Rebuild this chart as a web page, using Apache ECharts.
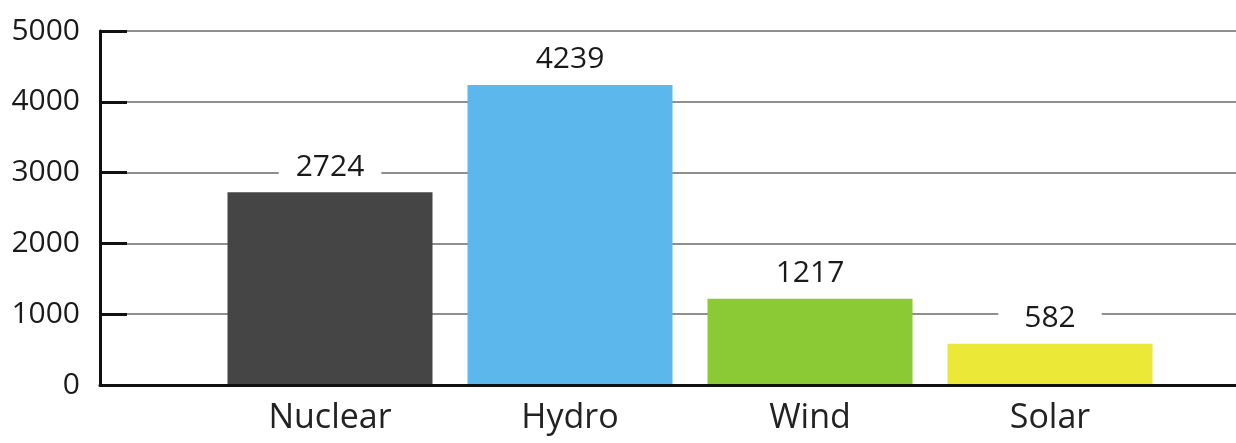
<!DOCTYPE html>
<html>
<head>
<meta charset="utf-8">
<script src="https://cdn.jsdelivr.net/npm/echarts@6/dist/echarts.min.js"></script>
<style>
html,body{margin:0;padding:0;background:#fff;}
#chart{width:1236px;height:443px;}
</style>
</head>
<body>
<div id="chart"></div>
<script>
const categories = ['Nuclear', 'Hydro', 'Wind', 'Solar'];
const values = [2724, 4239, 1217, 582];
const yTicks = [0, 1000, 2000, 3000, 4000, 5000];

const barColors = ['#454545', '#5cb8ec', '#8bca35', '#ebe838'];
const labelPads = [[0, 17], [0, 16], [0, 16], [0, 26]];

const chart = echarts.init(document.getElementById('chart'));
const FONT = '"Open Sans", sans-serif';

chart.setOption({
  animation: false,
  backgroundColor: '#fff',
  grid: [
    { left: 100, right: 0, top: 31, bottom: 58 },
    { left: 210, right: 66, top: 31, bottom: 58 }
  ],
  xAxis: [
    {
      gridIndex: 0, type: 'value', min: 0, max: 1, z: 5,
      axisLine: { show: true, lineStyle: { color: '#111', width: 3 } },
      axisTick: { show: false }, axisLabel: { show: false }, splitLine: { show: false }
    },
    {
      gridIndex: 1, type: 'category', data: categories, boundaryGap: true,
      axisLine: { show: false }, axisTick: { show: false },
      axisLabel: { fontSize: 34, fontFamily: FONT, color: '#222', margin: 16 }
    }
  ],
  yAxis: [
    {
      gridIndex: 0, type: 'value', min: yTicks[0], max: yTicks[yTicks.length - 1], interval: 1000, z: 0,
      axisLine: { show: true, lineStyle: { color: '#111', width: 3 } },
      axisTick: { show: true, inside: true, length: 27, lineStyle: { color: '#111', width: 3 } },
      axisLabel: { fontSize: 30, fontFamily: FONT, color: '#1a1a1a', margin: 20, formatter: v => String(v) },
      splitLine: { show: true, lineStyle: { color: '#8f8f8f', width: 2 } }
    },
    { gridIndex: 1, type: 'value', min: 0, max: 5000, show: false }
  ],
  series: [{
    type: 'bar',
    xAxisIndex: 1, yAxisIndex: 1,
    barWidth: 205,
    z: 3,
    data: values.map((v, i) => ({
      value: v,
      itemStyle: { color: barColors[i] },
      label: { padding: labelPads[i] }
    })),
    label: {
      show: true, position: 'top', distance: 10,
      fontSize: 30, fontFamily: FONT, color: '#1a1a1a',
      lineHeight: 30, backgroundColor: '#fff'
    }
  }]
});
</script>
</body>
</html>
